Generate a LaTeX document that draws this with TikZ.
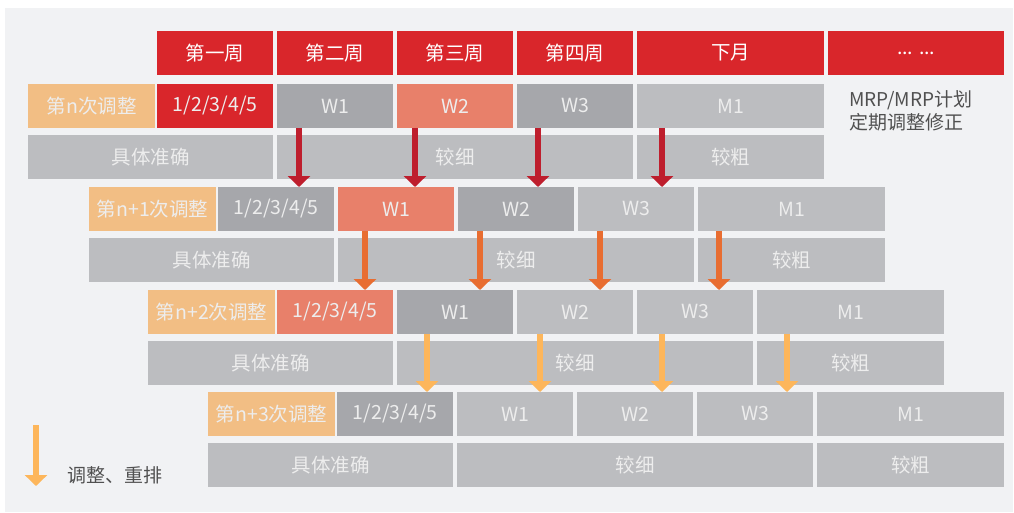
\documentclass[tikz,border=0pt]{standalone}
\usepackage{fontspec}
\newfontfamily\cjk{Noto Sans CJK SC}
\usetikzlibrary{arrows.meta}
\definecolor{bgc}{HTML}{F1F2F4}
\definecolor{hred}{HTML}{D9262B}
\definecolor{sal}{HTML}{E8806A}
\definecolor{dg}{HTML}{A6A7AB}
\definecolor{lg}{HTML}{BCBDC0}
\definecolor{lab}{HTML}{F2BE84}
\definecolor{arrA}{HTML}{BE1E2D}
\definecolor{arrB}{HTML}{E86D31}
\definecolor{arrC}{HTML}{FDB65B}
\definecolor{txtc}{HTML}{EDEDED}
\definecolor{dtxt}{HTML}{505050}
\tikzset{
  cell/.style={anchor=north west, inner sep=0pt, minimum height=43.5pt, text=txtc,
    font=\cjk\fontsize{19.5}{21}\selectfont},
  wcell/.style={cell, minimum width=116pt},
  mcell/.style={cell, minimum width=187pt},
  hcell/.style={cell, text=white, fill=hred},
  arr/.style={line width=6pt, -{Triangle[width=22pt,length=11pt]}},
  note/.style={font=\cjk\fontsize{19}{23}\selectfont, text=dtxt, inner sep=0pt}
}
\begin{document}
\begin{tikzpicture}[x=1pt,y=-1pt]
\useasboundingbox (0,0) rectangle (1014,512);
\fill[white] (0,0) rectangle (1014,512);
\fill[bgc] (5,8) rectangle (1013,512);
% header
\node[hcell, minimum width=116pt] (h1) at (157,31) {第一周};
\node[hcell, minimum width=116pt] (h2) at (277,31) {第二周};
\node[hcell, minimum width=116pt] (h3) at (397,31) {第三周};
\node[hcell, minimum width=116pt] (h4) at (517,31) {第四周};
\node[hcell, minimum width=187pt] (h5) at (637,31) {下月};
\node[hcell, minimum width=176pt] (h6) at (828,31) {... ...};
% rows
\foreach \r/\xo/\yo/\lbl/\ca/\cb/\cc/\cd in {
  1/157/84/{第n次调整}/hred/dg/sal/dg,
  2/218/187/{第n+1次调整}/dg/sal/dg/lg,
  3/277/290/{第n+2次调整}/sal/dg/lg/lg,
  4/337/392/{第n+3次调整}/dg/lg/lg/lg}{
  \node[cell, fill=lab, minimum width=127pt] (r\r l) at (\xo-129,\yo) {\lbl};
  \node[wcell, fill=\ca] (r\r c0) at (\xo,\yo) {1/2/3/4/5};
  \node[wcell, fill=\cb] (r\r c1) at (\xo+120,\yo) {W1};
  \node[wcell, fill=\cc] (r\r c2) at (\xo+240,\yo) {W2};
  \node[wcell, fill=\cd] (r\r c3) at (\xo+360,\yo) {W3};
  \node[mcell, fill=lg] (r\r c4) at (\xo+480,\yo) {M1};
  \node[cell, fill=lg, minimum width=245pt] (r\r a) at (\xo-129,\yo+51) {具体准确};
  \node[cell, fill=lg, minimum width=356pt] (r\r b) at (\xo+120,\yo+51) {较细};
  \node[mcell, fill=lg] (r\r m) at (\xo+480,\yo+51) {较粗};
}
% note
\node[note, anchor=west, align=left] (mrp) at (849,111) {MRP/MRP计划\\定期调整修正};
% arrows row1 -> row2
\draw[arr, arrA] (299,0 |- r1c1.south) -- (299,0 |- r2c0.north);
\draw[arr, arrA] (415,0 |- r1c2.south) -- (415,0 |- r2c1.north);
\draw[arr, arrA] (538,0 |- r1c3.south) -- (538,0 |- r2c2.north);
\draw[arr, arrA] (662,0 |- r1c4.south) -- (662,0 |- r2c3.north);
% arrows row2 -> row3
\draw[arr, arrB] (365,0 |- r2c1.south) -- (365,0 |- r3c0.north);
\draw[arr, arrB] (480,0 |- r2c2.south) -- (480,0 |- r3c1.north);
\draw[arr, arrB] (600,0 |- r2c3.south) -- (600,0 |- r3c2.north);
\draw[arr, arrB] (719,0 |- r2c4.south) -- (719,0 |- r3c3.north);
% arrows row3 -> row4
\draw[arr, arrC] (427,0 |- r3c1.south) -- (427,0 |- r4c0.north);
\draw[arr, arrC] (540,0 |- r3c2.south) -- (540,0 |- r4c1.north);
\draw[arr, arrC] (662,0 |- r3c3.south) -- (662,0 |- r4c2.north);
\draw[arr, arrC] (787,0 |- r3c4.south) -- (787,0 |- r4c3.north);
% legend
\coordinate (lgA) at (36,425);
\coordinate (lgB) at (36,486);
\draw[arr, arrC] (lgA) -- (lgB);
\node[note, anchor=west] (lgt) at (67,475) {调整、重排};
\end{tikzpicture}
\end{document}
